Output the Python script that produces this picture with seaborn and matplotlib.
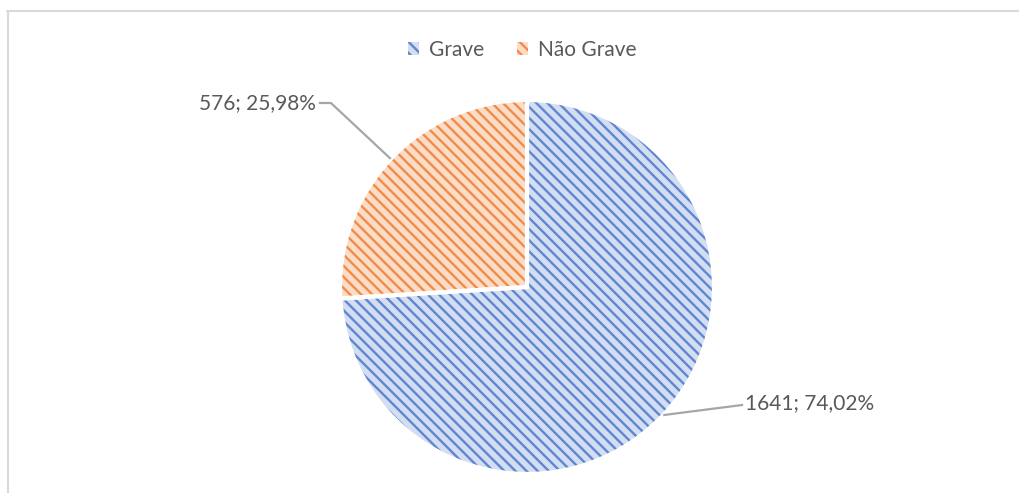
import numpy as np
import matplotlib
matplotlib.use("Agg")
import matplotlib.pyplot as plt
from matplotlib.lines import Line2D
from matplotlib.patches import Patch
import seaborn as sns

# Data
categories = ["Grave", "Não Grave"]
counts = [1641, 576]
percents = ["74,02%", "25,98%"]

face_colors = ["#d3def3", "#fbdcc6"]
hatch_colors = ["#5f86cf", "#f08c4a"]
text_color = "#595959"
hatch_pattern = "\\\\\\"

sns.set_theme(style="white")
plt.rcParams["font.family"] = ["Lato", "DejaVu Sans"]
plt.rcParams["hatch.linewidth"] = 1.7

W, H = 1020, 493
fig = plt.figure(figsize=(W / 100, H / 100), dpi=100)
ax = fig.add_axes([0, 0, 1, 1])

pal = sns.color_palette(hatch_colors)

wedges, _ = ax.pie(counts, startangle=90, counterclock=False, radius=1,
                   colors=face_colors,
                   wedgeprops=dict(linewidth=0, hatch=hatch_pattern))
for w, hc in zip(wedges, pal):
    w.set_edgecolor(hc)
    w.set_linewidth(0)

# white separators between slices
ax.pie(counts, startangle=90, counterclock=False, radius=1,
       wedgeprops=dict(fill=False, edgecolor="white", linewidth=3))

# pie centre and radius in pixels, used to lay out the data space
cx, cy, r = 527, 287, 187
ax.set_aspect("auto")
ax.set_xlim(-cx / r, (W - cx) / r)
ax.set_ylim(-(H - cy) / r, cy / r)
ax.axis("off")

# data labels with leader lines
label_text_pos = {0: (745, 403, "left"), 1: (316, 103, "right")}
for i, w in enumerate(wedges):
    ang = np.deg2rad((w.theta1 + w.theta2) / 2)
    ex, ey = np.cos(ang), np.sin(ang)
    px, py, ha = label_text_pos[i]
    tx, ty = (px - cx) / r, (cy - py) / r
    lab = f"{counts[i]}; {percents[i]}"
    if ha == "left":
        ax.plot([ex, tx - 0.01], [ey, ty - 0.01], color="#a6a6a6", lw=1.6,
                solid_capstyle="butt")
    else:
        elbow = tx + 0.08
        ax.plot([tx + 0.015, elbow, ex], [ty, ty, ey],
                color="#a6a6a6", lw=1.6, solid_capstyle="butt")
    ax.text(tx, ty, lab, ha=ha, va="center", fontsize=15, color=text_color)

# legend
handles = [Patch(facecolor=face_colors[i], edgecolor=hatch_colors[i],
                 hatch=hatch_pattern, linewidth=0)
           for i in range(2)]
leg = ax.legend(handles, categories, loc="center",
                bbox_to_anchor=(522 / W, 1 - 50 / H), ncol=2, frameon=False,
                fontsize=15, handlelength=0.55, handleheight=0.55,
                handletextpad=0.45, columnspacing=1.6)
for t in leg.get_texts():
    t.set_color(text_color)

# chart area frame (top and left edges)
fig.add_artist(Line2D([7 / W, 1.0], [1 - 11 / H, 1 - 11 / H],
                      transform=fig.transFigure, color="#d9d9d9", lw=1.5))
fig.add_artist(Line2D([8 / W, 8 / W], [0, 1 - 11 / H],
                      transform=fig.transFigure, color="#d9d9d9", lw=1.5))

fig.savefig("out.png", dpi=100, facecolor="white")
